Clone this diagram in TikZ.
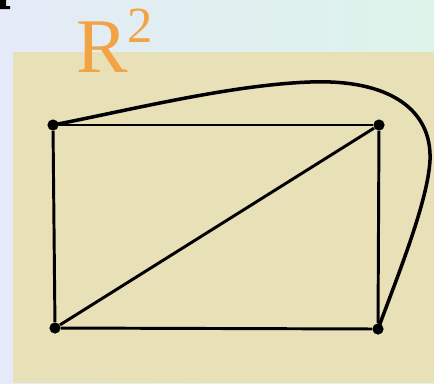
\documentclass[tikz,border=0pt]{standalone}
\usepackage{fontspec}
\setmainfont{Liberation Serif}
\usepackage{tikz}
\definecolor{panel}{HTML}{E8E1B8}
\definecolor{skyleft}{HTML}{E4EAF7}
\definecolor{skyright}{HTML}{DDF4EA}
\definecolor{titleorange}{HTML}{F2A444}
\tikzset{vertex/.style={circle,fill=black,inner sep=0pt,minimum size=0.28cm}}

\begin{document}
\begin{tikzpicture}[x=0.025cm,y=-0.025cm]
    \useasboundingbox (0,0) rectangle (434,383);

    % background
    \shade[left color=skyleft,right color=skyright] (0,0) rectangle (434,383);
    \fill[panel] (13,52) rectangle (434,383);
    \fill[black] (0,0) -- (6,0) -- (6,6) -- (10,6) -- (10,9) -- (0,9) -- cycle;

    % title
    \node[anchor=base west,inner sep=0pt,text=titleorange] (title) at (76,72)
        {\fontsize{55}{55}\selectfont R\raisebox{21pt}{\fontsize{36}{36}\selectfont 2}};

    % vertices
    \node[vertex] (ltop) at (53,125) {};
    \node[vertex] (rtop) at (379,125) {};
    \node[vertex] (lbot) at (55,328) {};
    \node[vertex] (rbot) at (378,329) {};

    \path[line width=2.5pt]
	(ltop) [-,black] edge (rtop)
	(lbot) [-,black] edge (rbot)
	(ltop) [-,black] edge (lbot)
	(rtop) [-,black] edge (rbot)
	(lbot) [-,black,line width=2.1pt] edge (rtop);

    \draw[black,line width=2.5pt] (ltop.center) .. controls (130,110) and (230,85) .. (310,82)
        .. controls (390,79) and (432,110) .. (430,160)
        .. controls (428,200) and (400,270) .. (rbot.center);
\end{tikzpicture}
\end{document}
